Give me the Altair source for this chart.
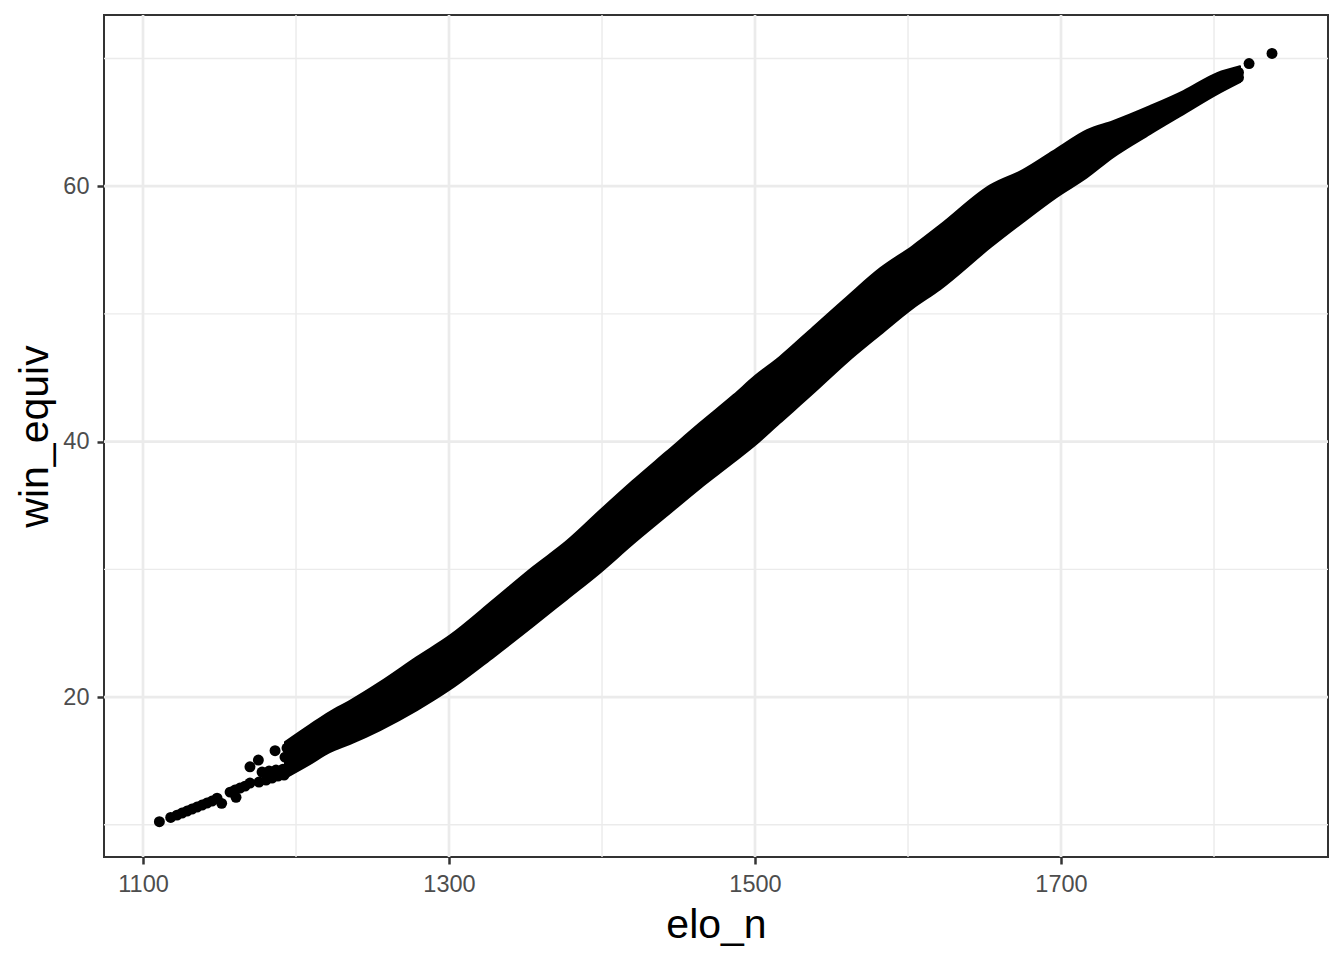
import altair as alt
import pandas as pd

# ---- data ----
# dense band: x positions with the upper and lower edge of the point cloud
band_elo = [1192.8, 1209, 1222, 1235, 1255, 1279, 1301, 1329, 1355, 1377, 1399,
            1420, 1442, 1464, 1486, 1500, 1516, 1538, 1560, 1582, 1603, 1621,
            1654, 1675, 1697, 1717, 1734, 1758, 1780, 1802, 1817]
band_upper = [16.48, 17.81, 18.83, 19.69, 21.17, 23.13, 24.85, 27.59, 30.18, 32.21, 34.64,
              36.91, 39.18, 41.45, 43.64, 45.13, 46.61, 48.96, 51.31, 53.58, 55.30, 56.95,
              60.08, 61.25, 62.90, 64.38, 65.09, 66.26, 67.44, 68.85, 69.39]
band_lower = [13.66, 14.75, 15.69, 16.32, 17.42, 18.98, 20.63, 23.13, 25.56, 27.67, 29.78,
              31.98, 34.17, 36.36, 38.40, 39.73, 41.45, 43.80, 46.22, 48.41, 50.45, 51.94,
              55.23, 57.18, 59.14, 60.70, 62.27, 64.07, 65.64, 67.20, 68.14]

# sparse points at the two tails
pt_elo = [1110.7, 1118.1, 1122.2, 1125.5, 1128.8, 1132.0, 1135.3, 1138.6, 1141.8, 1145.1,
          1148.4, 1151.4, 1156.9, 1160.1, 1163.4, 1166.7, 1169.9, 1160.8, 1169.9, 1175.4,
          1186.3, 1175.8, 1180.4, 1184.3, 1188.2, 1192.2, 1177.8, 1182.4, 1186.9, 1191.5,
          1195.4, 1194.1, 1192.8, 1816.0, 1816.0, 1822.9, 1837.9]
pt_win = [10.24, 10.58, 10.76, 10.92, 11.08, 11.23, 11.39, 11.55, 11.70, 11.86,
          12.09, 11.68, 12.56, 12.72, 12.88, 13.03, 13.27, 12.15, 14.54, 15.07,
          15.80, 13.35, 13.50, 13.66, 13.82, 13.89, 14.13, 14.21, 14.29, 14.36,
          14.29, 16.01, 15.30, 68.90, 68.50, 69.60, 70.39]

x_major = [1100, 1300, 1500, 1700]
x_minor = [1200, 1400, 1600, 1800]
y_major = [20, 40, 60]
y_minor = [10, 30, 50, 70]

X_DOMAIN = [1074.5, 1874.5]
Y_DOMAIN = [7.48, 73.4]
W, H = 1224, 842
FONT = "Liberation Sans"

band_df = pd.DataFrame({"elo_n": band_elo, "upper": band_upper, "lower": band_lower})
pts_df = pd.DataFrame({"elo_n": pt_elo, "win_equiv": pt_win})

xscale = alt.Scale(domain=X_DOMAIN, nice=False, zero=False)
yscale = alt.Scale(domain=Y_DOMAIN, nice=False, zero=False)

xaxis = alt.Axis(values=x_major, format="d", grid=False, domain=False, tickSize=7,
                 tickWidth=2.5, tickColor="#333333", labelFont=FONT, labelFontSize=23.5,
                 labelColor="#4D4D4D", labelPadding=27, labelBaseline="alphabetic",
                 labelFlush=False, title="elo_n", titleFont=FONT, titleFontSize=41,
                 titleFontWeight="normal", titleColor="black", titleX=W / 2,
                 titleY=80, titleAlign="center", titleBaseline="alphabetic")
yaxis = alt.Axis(values=y_major, format="d", grid=False, domain=False, tickSize=7,
                 tickWidth=2.5, tickColor="#333333", labelFont=FONT, labelFontSize=23.5,
                 labelColor="#4D4D4D", labelPadding=8, labelFlush=False,
                 title="win_equiv", titleFont=FONT, titleFontSize=41,
                 titleFontWeight="normal", titleColor="black", titleAngle=270,
                 titleX=-57, titleY=H / 2, titleAlign="center",
                 titleBaseline="alphabetic")


def xe(field):
    return alt.X(f"{field}:Q", scale=xscale, axis=xaxis)


def ye(field):
    return alt.Y(f"{field}:Q", scale=yscale, axis=yaxis)


vmin = alt.Chart(pd.DataFrame({"elo_n": x_minor})).mark_rule(
    color="#EBEBEB", strokeWidth=1.4).encode(x=xe("elo_n"))
vmaj = alt.Chart(pd.DataFrame({"elo_n": x_major})).mark_rule(
    color="#EBEBEB", strokeWidth=2.7).encode(x=xe("elo_n"))
hmin = alt.Chart(pd.DataFrame({"win_equiv": y_minor})).mark_rule(
    color="#EBEBEB", strokeWidth=1.4).encode(y=ye("win_equiv"))
hmaj = alt.Chart(pd.DataFrame({"win_equiv": y_major})).mark_rule(
    color="#EBEBEB", strokeWidth=2.7).encode(y=ye("win_equiv"))

band = alt.Chart(band_df).mark_area(
    color="black", opacity=1, interpolate="monotone",
    stroke="black", strokeWidth=2, strokeJoin="round").encode(
    x=xe("elo_n"), y=ye("upper"), y2="lower:Q")

points = alt.Chart(pts_df).mark_circle(color="black", size=120, opacity=1).encode(
    x=xe("elo_n"), y=ye("win_equiv"))

chart = alt.layer(vmin, vmaj, hmin, hmaj, band, points).properties(
    width=W, height=H,
    autosize=alt.AutoSizeParams(type="none"),
    padding={"left": 96, "top": 7, "right": 8, "bottom": 100},
    background="white",
).configure_view(stroke="#333333", strokeWidth=2)

chart.save("out.html", embed_options={"renderer": "svg", "actions": False})
